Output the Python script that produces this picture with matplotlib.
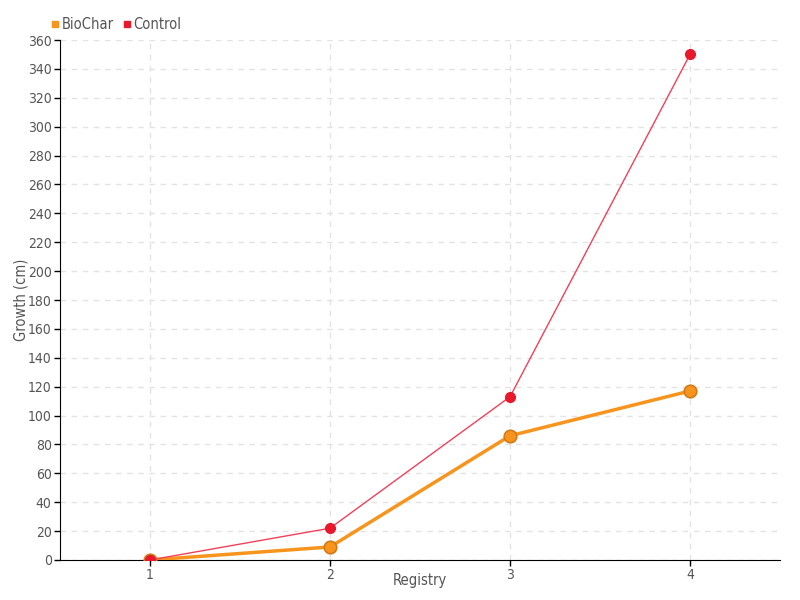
import matplotlib
matplotlib.use('Agg')
import matplotlib.pyplot as plt
from matplotlib.lines import Line2D

# Data
registry = [1, 2, 3, 4]
biochar = [0, 9, 86, 117]
control = [0, 22, 113, 350]

plt.rcParams['font.family'] = 'DejaVu Sans'
plt.rcParams['font.stretch'] = 'condensed'
txt = '#555555'

fig = plt.figure(figsize=(8, 6), dpi=100)
ax = fig.add_axes([0.075, 0.0667, 0.9, 0.8666])

ax.plot(registry, biochar, color='#f7941d', linewidth=2.5, marker='o', markersize=9,
        markerfacecolor='#f7941d', markeredgecolor='#d27a1a', markeredgewidth=1.2, zorder=3)
ax.plot(registry, control, color='#f2405a', linewidth=1, marker='o', markersize=7,
        markerfacecolor='#e8192c', markeredgecolor='#e8192c', zorder=4)

ax.set_xlim(0.5, 4.5)
ax.set_ylim(0, 360)
ax.set_xticks(registry)
ax.set_yticks(range(0, 361, 20))
ax.grid(True, color='#e3e3e3', linestyle=(0, (4, 4)), linewidth=1)
ax.set_axisbelow(True)
for s in ['top', 'right']:
    ax.spines[s].set_visible(False)
ax.spines['left'].set_color('black')
ax.spines['bottom'].set_color('black')
ax.tick_params(colors=txt, labelsize=10, length=4, width=1, pad=2)
ax.tick_params(axis='both', color='black')
ax.set_xlabel('Registry', color=txt, fontsize=10.5, va='center')
ax.set_ylabel('Growth (cm)', color=txt, fontsize=10.5, va='center')
ax.xaxis.set_label_coords(0.5, -0.04)
ax.yaxis.set_label_coords(-0.054, 0.5)

handles = [Line2D([], [], linestyle='none', marker='s', markersize=5, color='#f7941d'),
           Line2D([], [], linestyle='none', marker='s', markersize=5, color='#e8192c')]
fig.legend(handles, ['BioChar', 'Control'], loc='upper left', bbox_to_anchor=(0.045, 0.993),
           ncol=2, frameon=False, handletextpad=0.05, columnspacing=0.5, handlelength=0.8,
           labelcolor=txt, fontsize=10.5)

fig.savefig('out.png', dpi=100)
